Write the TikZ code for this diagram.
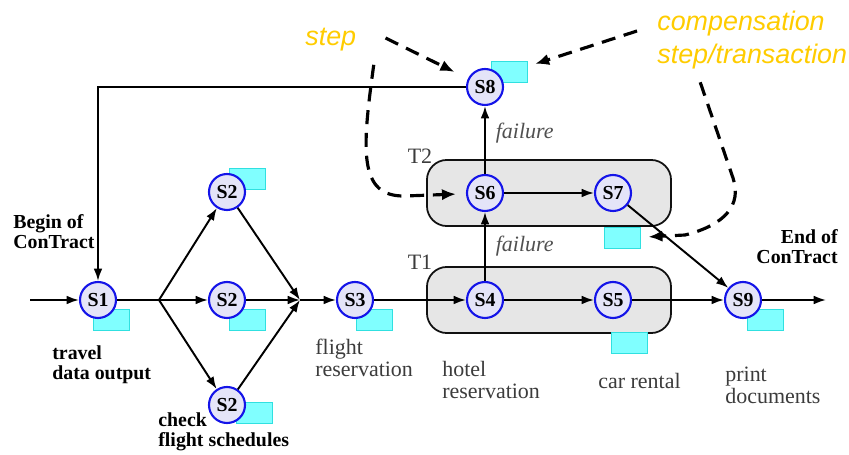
\documentclass[tikz,border=0pt]{standalone}
\usepackage{fontspec}
\setmainfont{Liberation Serif}
\newfontfamily\notefont{Liberation Sans}
\usetikzlibrary{positioning, arrows.meta, calc, fit, backgrounds}
\definecolor{clrstep}{HTML}{E4E4F8}
\definecolor{clrstepborder}{HTML}{1414E8}
\definecolor{clrcomp}{HTML}{80FFFF}
\definecolor{clrcompborder}{HTML}{30E0E0}
\definecolor{clrborder}{HTML}{000000}
\definecolor{clrtext}{HTML}{3C3C3C}
\definecolor{clrfail}{HTML}{505050}
\definecolor{clrnote}{HTML}{FFCC00}
\definecolor{clrgroup_frame}{HTML}{111111}
\definecolor{clrgroup_fill}{HTML}{E6E6E6}

\begin{document}
\begin{tikzpicture}[
    x=0.02cm, y=-0.02cm,
    >={Latex[length=7pt, width=5pt]},
    stepnode/.style={circle, draw=clrstepborder, fill=clrstep, line width=1.2pt,
                     minimum size=0.72cm, inner sep=0pt,
                     font=\fontsize{11.3}{12}\selectfont\bfseries},
    comptag/.style={draw=clrcompborder, fill=clrcomp, line width=0.8pt,
                    minimum width=0.72cm, minimum height=0.42cm, inner sep=0pt,
                    anchor=north west},
    arrow/.style={->, color=clrborder, line width=1.1pt},
    plainline/.style={color=clrborder, line width=1.1pt},
    notearrow/.style={->, >={Latex[length=8pt, width=6.5pt]}, color=clrborder,
                      line width=1.8pt, dash pattern=on 8pt off 5pt},
    boldlabel/.style={inner sep=0pt, font=\fontsize{11.3}{11.3}\selectfont\bfseries},
    tasklabel/.style={align=left, inner sep=0pt, text=clrtext,
                      font=\fontsize{12.5}{12.5}\selectfont},
    faillabel/.style={right, xshift=0.08cm, text=clrfail,
                      font=\fontsize{12.5}{12.5}\selectfont\itshape},
    notelabel/.style={align=left, inner sep=0pt, text=clrnote,
                      font=\notefont\itshape\fontsize{15.3}{18.7}\selectfont},
]
\useasboundingbox (0,0) rectangle (849,455);
\node[stepnode] (s_1) at (98,300) {S1};
\node[stepnode] (s_2a) at (227,192) {S2};
\node[stepnode] (s_2b) at (227,300) {S2};
\node[stepnode] (s_2c) at (227,405) {S2};
\node[stepnode] (s_3) at (355,300) {S3};
\node[stepnode] (s_4) at (485,300) {S4};
\node[stepnode] (s_5) at (613,300) {S5};
\node[stepnode] (s_6) at (485,193) {S6};
\node[stepnode] (s_7) at (613,193) {S7};
\node[stepnode] (s_8) at (485,87) {S8};
\node[stepnode] (s_9) at (743,300) {S9};
\coordinate (c_in) at (30,300);
\coordinate (c_split) at (159,300);
\coordinate (c_join) at (300,300);
\coordinate (c_out) at (826,300);
\begin{pgfonlayer}{background}
\node[draw=clrgroup_frame, rounded corners=0.4cm, line width=1pt, fill=clrgroup_fill, inner xsep=0.78cm, inner ysep=0.28cm, fit=(s_4) (s_5)] (g_t1) {};
\node[draw=clrgroup_frame, rounded corners=0.4cm, line width=1pt, fill=clrgroup_fill, inner xsep=0.78cm, inner ysep=0.28cm, fit=(s_6) (s_7)] (g_t2) {};
\node[comptag] (tag_1) at ([shift={(-5,9)}]s_1.center) {};
\node[comptag] (tag_2a) at ([shift={(2,-24)}]s_2a.center) {};
\node[comptag] (tag_2b) at ([shift={(2,9)}]s_2b.center) {};
\node[comptag] (tag_2c) at ([shift={(9,-3)}]s_2c.center) {};
\node[comptag] (tag_3) at ([shift={(1,9)}]s_3.center) {};
\node[comptag] (tag_5) at ([shift={(-2,32)}]s_5.center) {};
\node[comptag] (tag_7) at ([shift={(-9,34)}]s_7.center) {};
\node[comptag] (tag_8) at ([shift={(6,-26)}]s_8.center) {};
\node[comptag] (tag_9) at ([shift={(4,9)}]s_9.center) {};
\end{pgfonlayer}
\node[tasklabel] (lbl_t1) at (420,262) {T1};
\node[tasklabel] (lbl_t2) at (420,156) {T2};
\draw[arrow] (c_in) -- (s_1);
\draw[plainline] (s_1) -- (c_split);
\draw[arrow] (c_split) -- (s_2a);
\draw[arrow] (c_split) -- (s_2b);
\draw[arrow] (c_split) -- (s_2c);
\draw[arrow] (s_2a) -- (c_join);
\draw[arrow] (s_2b) -- (c_join);
\draw[arrow] (s_2c) -- (c_join);
\draw[arrow] (c_join) -- (s_3);
\draw[arrow] (s_3) -- (s_4);
\draw[arrow] (s_4) -- (s_5);
\draw[arrow] (s_5) -- (s_9);
\draw[arrow] (s_9) -- (c_out);
\draw[arrow] (s_4) -- node[faillabel] {failure} (s_6);
\draw[arrow] (s_6) -- node[faillabel, pos=0.6] {failure} (s_8);
\draw[arrow] (s_6) -- (s_7);
\draw[arrow] (s_7) -- (s_9);
\draw[arrow] (s_8.west) -| (s_1);
\node[boldlabel, align=left, anchor=west] (lbl_begin) at (13,232) {Begin of\\ConTract};
\node[boldlabel, align=right, anchor=east] (lbl_end) at (838,247) {End of\\ConTract};
\node[boldlabel, align=left, anchor=west] (lbl_travel) at (52,365) {travel\\data output};
\node[boldlabel, align=left, anchor=west] (lbl_check) at (158,432) {check\\flight schedules};
\node[tasklabel, anchor=west] (lbl_flight) at (315,358) {flight\\reservation};
\node[tasklabel, anchor=west] (lbl_hotel) at (442,380) {hotel\\reservation};
\node[tasklabel, anchor=west] (lbl_car) at (598,381) {car rental};
\node[tasklabel, anchor=west] (lbl_print) at (725,385) {print\\documents};
\node[notelabel, anchor=west] (lbl_step) at (305,40) {step};
\node[notelabel, anchor=west] (lbl_comp) at (657,40) {compensation\\step/transaction};
\draw[notearrow, shorten >=0.3cm] ([shift={(29,-2)}]lbl_step.east) -- (s_8);
\draw[notearrow, shorten >=0.2cm] ([shift={(43,13)}]lbl_step.south) .. controls (362,150) and (358,197) .. (405,196) -- (s_6);
\draw[notearrow, shorten >=0.14cm] ([shift={(-20,-9)}]lbl_comp.west) -- (tag_8);
\draw[notearrow, shorten >=0.14cm] ([shift={(-52,13)}]lbl_comp.south) -- (733,178) .. controls (742,205) and (725,225) .. (685,235) -- (tag_7);
\end{tikzpicture}
\end{document}
